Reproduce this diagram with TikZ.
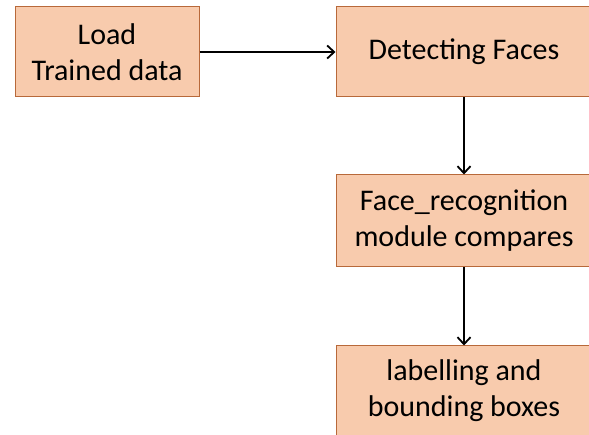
\documentclass[tikz,border=0pt]{standalone}
\usepackage{fontspec}
\setmainfont{Carlito}
\usepackage{tikz}
\usetikzlibrary{arrows.meta}
\definecolor{boxfill}{HTML}{F8CBAD}
\definecolor{boxline}{HTML}{B8693A}
\tikzset{
	stepbox/.style = {draw = boxline, fill = boxfill, line width = 1pt, minimum width = 256pt, minimum height = 90pt, align = center, inner sep = 0pt, font = \fontsize{30}{36}\selectfont},
	flow/.style = {-{Straight Barb[length=7pt, width=13pt]}, line width = 1.8pt}
}
\begin{document}
\begin{tikzpicture}[x = 1pt, y = 1pt]
	\useasboundingbox (0,0) rectangle (589,434);
	\clip (0,0) rectangle (589,434);
	\node [stepbox, minimum width = 184pt] (load) at (107,382) {Load\\Trained data};
	\node [stepbox] (detect) at (464,382) {Detecting Faces};
	\node [stepbox, minimum height = 92pt] (recog) at (464,213) {Face\_recognition\\module compares};
	\node [stepbox] (label) at (464,43) {labelling and\\bounding boxes};
	\draw [flow] (load) -- (detect);
	\draw [flow] (detect) -- (recog);
	\draw [flow] (recog) -- (label);
\end{tikzpicture}
\end{document}
